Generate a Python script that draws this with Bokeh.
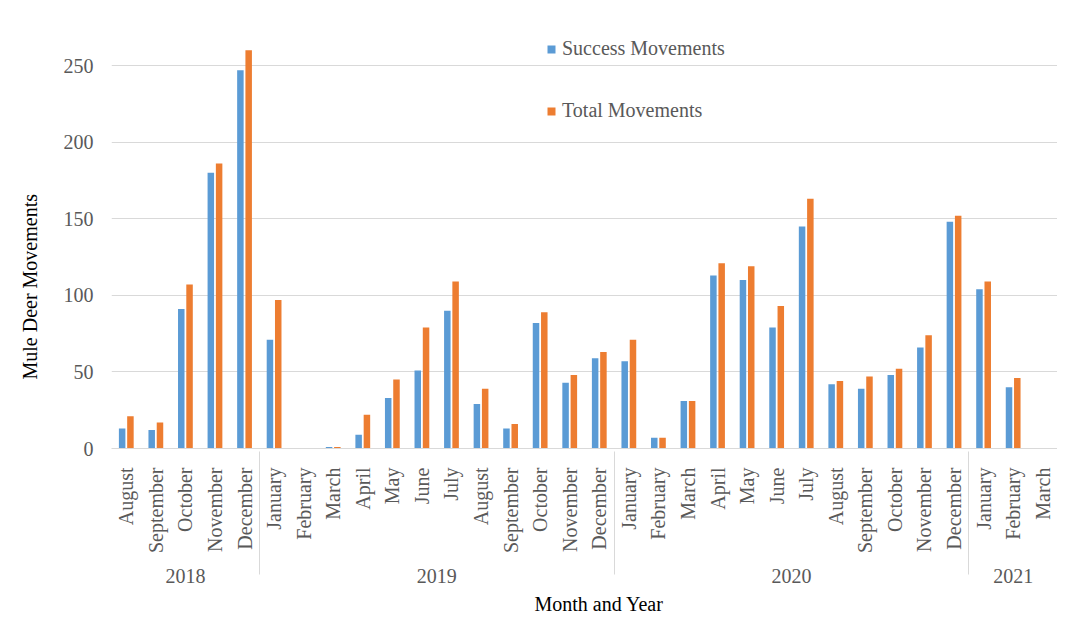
import math
from bokeh.plotting import figure
from bokeh.models import FactorRange, ColumnDataSource, Legend, LegendItem, Range1d, FixedTicker, Title
from bokeh.transform import dodge
from bokeh.embed import file_html
from bokeh.resources import INLINE

years = ["2018"] * 5 + ["2019"] * 12 + ["2020"] * 12 + ["2021"] * 3
months = ["August", "September", "October", "November", "December",
          "January", "February", "March", "April", "May", "June", "July",
          "August", "September", "October", "November", "December",
          "January", "February", "March", "April", "May", "June", "July",
          "August", "September", "October", "November", "December",
          "January", "February", "March"]
success = [13, 12, 91, 180, 247,
           71, 0, 1, 9, 33, 51, 90, 29, 13, 82, 43, 59,
           57, 7, 31, 113, 110, 79, 145, 42, 39, 48, 66, 148,
           104, 40, 0]
total = [21, 17, 107, 186, 260,
         97, 0, 1, 22, 45, 79, 109, 39, 16, 89, 48, 63,
         71, 7, 31, 121, 119, 93, 163, 44, 47, 52, 74, 152,
         109, 46, 0]
y_ticks = [0, 50, 100, 150, 200, 250]

factors = list(zip(years, months))
src = ColumnDataSource(dict(x=factors, success=success, total=total))

FONT = "Liberation Serif"
GRAY = "#595959"
GRID = "#D9D9D9"

xr = FactorRange(*factors, group_padding=0, factor_padding=0, range_padding=0)
p = figure(width=1057, height=618, x_range=xr, y_range=Range1d(0, 284),
           output_backend="svg", toolbar_location=None,
           min_border_left=102, min_border_top=13, min_border_right=0, min_border_bottom=150)
p.outline_line_color = None
p.background_fill_color = "white"

r1 = p.vbar(x=dodge("x", -0.14, range=p.x_range), top="success", width=0.22,
            source=src, fill_color="#5B9BD5", line_color=None)
r2 = p.vbar(x=dodge("x", 0.14, range=p.x_range), top="total", width=0.22,
            source=src, fill_color="#ED7D31", line_color=None)

p.xgrid.grid_line_color = None
p.ygrid.grid_line_color = GRID
p.ygrid.ticker = FixedTicker(ticks=y_ticks)

ya = p.yaxis[0]
ya.ticker = FixedTicker(ticks=y_ticks)
ya.axis_line_color = None
ya.major_tick_line_color = None
ya.minor_tick_line_color = None
ya.major_label_text_font = FONT
ya.major_label_text_font_size = "20px"
ya.major_label_text_color = GRAY
ya.major_label_standoff = 12

xa = p.xaxis[0]
xa.axis_line_color = GRID
xa.major_tick_line_color = None
xa.minor_tick_line_color = None
xa.major_label_orientation = math.pi / 2
xa.major_label_text_font = FONT
xa.major_label_text_font_size = "20px"
xa.major_label_text_color = GRAY
xa.major_label_standoff = 13
xa.group_text_font = FONT
xa.group_text_font_size = "20px"
xa.group_text_color = GRAY
xa.group_text_font_style = "normal"
xa.separator_line_color = GRID
xa.separator_line_width = 1

# axis titles placed as in the reference
p.add_layout(Title(text="Mule Deer Movements", align="left", offset=69, standoff=36,
                   vertical_align="top",
                   text_font=FONT, text_font_size="20px", text_font_style="normal",
                   text_color="black"), "left")
p.add_layout(Title(text="Month and Year", align="left", offset=423, standoff=8,
                   text_font=FONT, text_font_size="20px", text_font_style="normal",
                   text_color="black"), "below")

legend = Legend(items=[LegendItem(label="Success Movements", renderers=[r1]),
                       LegendItem(label="Total Movements", renderers=[r2])],
                location=(435, 326), orientation="vertical",
                border_line_color=None, background_fill_alpha=0,
                glyph_width=10, glyph_height=10, label_standoff=6,
                label_text_font=FONT, label_text_font_size="20px",
                label_text_color=GRAY, spacing=39, padding=5, margin=0)
p.add_layout(legend)

open("out.html", "w").write(file_html(p, INLINE))
